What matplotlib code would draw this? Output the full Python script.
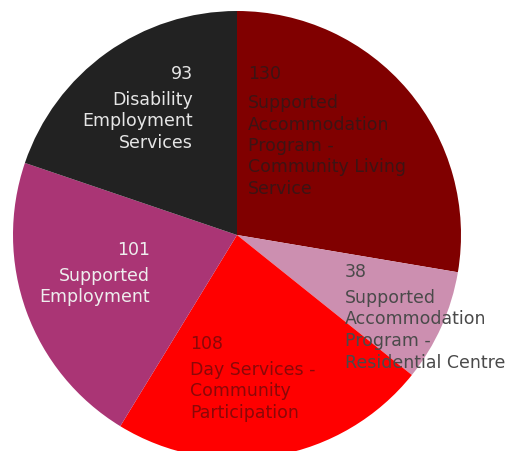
import matplotlib.pyplot as plt

# data
counts = [130, 38, 108, 101, 93]
numbers = ["130", "38", "108", "101", "93"]
names = [
    "Supported\nAccommodation\nProgram -\nCommunity Living\nService",
    "Supported\nAccommodation\nProgram -\nResidential Centre",
    "Day Services -\nCommunity\nParticipation",
    "Supported\nEmployment",
    "Disability\nEmployment\nServices",
]
colors = ["#800000", "#cc8fb0", "#ff0000", "#aa3575", "#222222"]

# label layout in pixels (x, y of number line), gap to name block, alignment, text colour
label_pos = [(248, 74), (345, 272), (190, 344), (150, 250), (193, 74)]
label_gap = [20, 17, 17, 17, 17]
label_ha = ["left", "left", "left", "right", "right"]
label_col = ["#3c1414", "#4a4a4a", "#8a0808", "#eeeeee", "#e6e6e6"]

W, H = 514, 452
cx, cy, r = 237, 236, 224


def px(x, y):
    return (x - cx) / r, (cy - y) / r


plt.rcParams['font.family'] = ['DejaVu Sans']

fig = plt.figure(figsize=(W / 100, H / 100), dpi=100)
ax = fig.add_axes([0, 0, 1, 1])
ax.pie(counts, colors=colors, startangle=90, counterclock=False,
       radius=1, center=(0, 0), wedgeprops=dict(linewidth=0))
ax.set_xlim(-cx / r, (W - cx) / r)
ax.set_ylim(-(H - cy) / r, cy / r)
ax.set_aspect('auto')
ax.axis('off')

fs = 12.5
for i in range(len(counts)):
    x, y = label_pos[i]
    ax.text(*px(x, y), numbers[i], ha=label_ha[i], va='center',
            fontsize=fs, color=label_col[i])
    ax.text(*px(x, y + label_gap[i]), names[i], ha=label_ha[i], va='top',
            fontsize=fs, color=label_col[i],
            linespacing=1.25, multialignment=label_ha[i])

fig.savefig("out.png", dpi=100)
